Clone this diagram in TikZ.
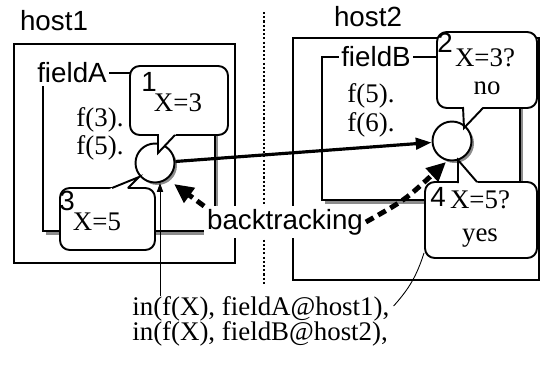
\documentclass[tikz,border=0pt]{standalone}
\usepackage{fontspec}
\setmainfont{Liberation Serif}
\setsansfont{Liberation Sans}
\usetikzlibrary{arrows.meta, positioning, calc}

\begin{document}
\begin{tikzpicture}[x=0.02cm, y=-0.02cm,
	box/.style={draw, line width=1.1pt},
	shadowfill/.style={fill=black!45},
	goal/.style={draw, circle, fill=white, line width=1.1pt, minimum size=0.78cm, inner sep=0pt},
	bubble/.style={draw, fill=white, line width=1.1pt, rounded corners=5.5pt, inner sep=0pt},
	tail/.style={line width=1.1pt, line join=miter},
	txt/.style={font=\fontsize{15.3}{14.2}\selectfont, inner sep=0pt},
	sans/.style={font=\sffamily\fontsize{15.8}{16}\selectfont, inner sep=0pt},
	tag/.style={sans, fill=white, inner sep=1.5pt},
	backarrow/.style={line width=2.8pt, dash pattern=on 5pt off 3pt, -{Triangle[length=11pt,width=10pt]}}]
	\useasboundingbox (0,0) rectangle (548,365);

	% hosts
	\node[sans] (host1) at (54,21) {host1};
	\node[sans] (host2) at (368,17) {host2};
	\draw[box] (14,44) rectangle (235,263);
	\draw[box] (293,38) rectangle (539,280);
	\draw[line width=1.2pt, dash pattern=on 1.2pt off 1.2pt] (264,12) -- (264,285);

	% fields
	\fill[shadowfill] (46,76) rectangle (218,235);
	\draw[box, fill=white] (43,73) rectangle (215,231);
	\node[tag] (fieldA) at (72,73) {fieldA};
	\node[txt] (fA1) at (100,120) {f(3).};
	\node[txt] (fA2) at (100,148) {f(5).};

	\fill[shadowfill] (325,60) rectangle (523,204);
	\draw[box, fill=white] (322,57) rectangle (520,200);
	\node[tag] (fieldB) at (376,57) {fieldB};
	\node[txt] (fB1) at (371,96) {f(5).};
	\node[txt] (fB2) at (371,125) {f(6).};

	% in/2 goals
	\fill[shadowfill] (157.5,165.5) circle [radius=0.39cm];
	\node[goal] (cA) at (155,163) {};
	\fill[shadowfill] (454.5,143.5) circle [radius=0.39cm];
	\node[goal] (cB) at (452,141) {};

	% bubbles
	\node[bubble, minimum width=1.96cm, minimum height=1.38cm] (b1) at (179,100.5) {};
	\fill[white] (158,129) -- (158,153) -- (181,129) -- cycle;
	\draw[tail] (158,134) -- (158,153) -- (175,135);
	\node[sans] (n1) at (149,82) {1};
	\node[txt] (t1) at (178,103) {X=3};

	\node[bubble, minimum width=2cm, minimum height=1.52cm] (b2) at (487,70) {};
	\fill[white] (463,102) -- (464,128) -- (487,102) -- cycle;
	\draw[tail] (463,107) -- (464,128) -- (483,108);
	\node[sans] (n2) at (445,43) {2};
	\node[txt] (t2) at (485,58) {X=3?};
	\node[txt] (t2b) at (487,88) {no};

	\node[bubble, minimum width=1.9cm, minimum height=1.24cm] (b3) at (107.5,219) {};
	\fill[white] (97,194) -- (139,177) -- (122,194) -- cycle;
	\draw[tail] (112,188) -- (139,177) -- (128,188);
	\node[sans] (n3) at (67,201) {3};
	\node[txt] (t3) at (97,222) {X=5};

	\node[bubble, minimum width=2.24cm, minimum height=1.52cm] (b4) at (481,220) {};
	\fill[white] (458,188) -- (458,160) -- (482,188) -- cycle;
	\draw[tail] (458,183) -- (458,160) -- (477,182);
	\node[sans] (n4) at (438,197) {4};
	\node[txt] (t4) at (480,200) {X=5?};
	\node[txt] (t4b) at (480,238) {yes};

	% query
	\node[txt, align=left, anchor=north west] (query) at (132,296)
		{in(f(X), fieldA@host1),\\in(f(X), fieldB@host2),};
	\coordinate (qa) at (160,183);
	\draw[line width=0.5pt, -{Triangle[length=5pt,width=3.5pt]}] (qa |- query.north) -- (qa);
	\draw[line width=0.5pt] ($(query.north east)+(4,10)$) to[bend right=12] (b4.210);

	\draw[line width=1.8pt, -{Triangle[length=9pt,width=6.5pt]}] (cA) -- (cB);

	% backtracking
	\node[tag] (bt) at (285,222) {backtracking};
	\coordinate (tA) at (174,184);
	\coordinate (tB) at (446,162);
	\draw[backarrow] (bt.north west) -- (tA);
	\draw[backarrow] (bt.east) .. controls (405,200) .. (tB);
\end{tikzpicture}
\end{document}
